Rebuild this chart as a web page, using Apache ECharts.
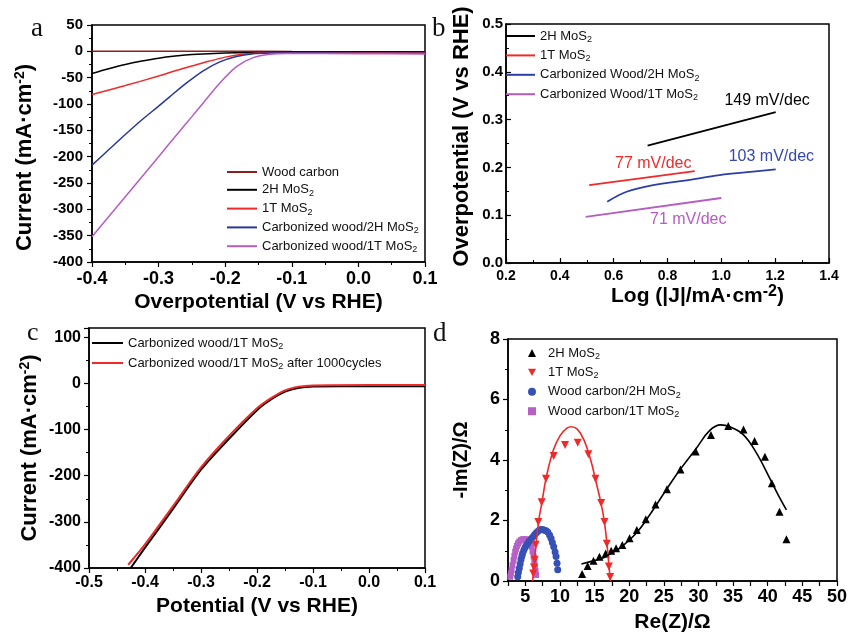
<!DOCTYPE html>
<html>
<head>
<meta charset="utf-8">
<script src="https://cdn.jsdelivr.net/npm/echarts@6.0.0/dist/echarts.min.js"></script>
<style>
  html, body { margin: 0; padding: 0; background: #fff; }
  #chart { width: 849px; height: 632px; }
</style>
</head>
<body>
<div id="chart"></div>
<script>
// ---- panel a: polarization curves [overpotential V, current mA/cm2]
const lsvWoodCarbon = [[-0.4, 0], [-0.3, 0], [-0.2, 0], [-0.15, 0], [-0.1, -0.5], [0, -0.8], [0.1, -0.8]];
const lsv2H = [[-0.4, -42], [-0.375, -33], [-0.35, -25], [-0.325, -18.5], [-0.3, -13], [-0.275, -9], [-0.25, -6], [-0.2, -3], [-0.15, -2], [-0.1, -1.5], [0, -1.5], [0.1, -1.5]];
const lsv1T = [[-0.4, -82], [-0.35, -65], [-0.3, -47], [-0.275, -37], [-0.25, -28], [-0.225, -19], [-0.2, -11], [-0.175, -5.5], [-0.15, -3], [-0.1, -2.5], [0, -2.5], [0.1, -2.5]];
const lsvCw2H = [[-0.4, -216], [-0.375, -187], [-0.35, -158], [-0.325, -130], [-0.3, -104], [-0.283, -86], [-0.258, -60], [-0.233, -37], [-0.208, -20], [-0.183, -10], [-0.158, -4.8], [-0.133, -3.3], [-0.1, -3], [0, -3.5], [0.1, -3.5]];
const lsvCw1T = [[-0.4, -352], [-0.35, -276], [-0.3, -200], [-0.27, -154], [-0.25, -124], [-0.233, -98], [-0.208, -60], [-0.183, -29], [-0.158, -12], [-0.133, -5.5], [-0.108, -4], [0, -4.5], [0.1, -5]];

// ---- panel b: Tafel plots [log|J|, overpotential V]
const tafel2H = [[0.726, 0.2455], [1.202, 0.3154]];
const tafel1T = [[0.509, 0.163], [0.901, 0.1923]];
const tafelCw2H = [[0.576, 0.128], [0.648, 0.149], [0.747, 0.163], [0.871, 0.173], [0.994, 0.184], [1.118, 0.191], [1.202, 0.196]];
const tafelCw1T = [[0.496, 0.0965], [1.0, 0.136]];
const tafelSlopes = ['149 mV/dec', '77 mV/dec', '103 mV/dec', '71 mV/dec'];
const tafelSlopeAt = [[1.17, 0.34], [0.747, 0.208], [1.186, 0.222], [0.877, 0.091]];

// ---- panel c: stability [potential V, current mA/cm2]
const stabFresh = [[-0.4255, -400], [-0.4, -356], [-0.35, -272], [-0.3, -187], [-0.25, -120], [-0.2, -58], [-0.175, -35], [-0.15, -18], [-0.125, -9.4], [-0.1, -6.5], [0, -6], [0.1, -6]];
const stabAged = [[-0.43, -393], [-0.4, -349], [-0.35, -266], [-0.3, -182], [-0.25, -114], [-0.2, -54], [-0.175, -32], [-0.15, -15], [-0.125, -7], [-0.1, -4.5], [0, -3.5], [0.1, -3.5]];

// ---- panel d: Nyquist plots [Re(Z), -Im(Z)]
const eis2H = [[13.2, 0.23], [14.0, 0.50], [14.84, 0.67], [15.7, 0.80], [16.6, 0.91], [17.4, 1.0], [18.1, 1.08], [19.0, 1.19], [20.05, 1.41], [21.1, 1.69], [22.4, 2.04], [23.8, 2.53], [25.45, 3.03], [27.4, 3.69], [29.6, 4.28], [31.8, 4.83], [34.3, 5.12], [36.5, 5.01], [38.1, 4.63], [39.6, 4.11], [40.6, 3.23], [41.7, 2.29], [42.7, 1.38]];
const eis2HFit = [[13.1, 0.56], [15, 0.68], [16.2, 0.76], [17, 0.86], [18.6, 1.08], [21, 1.58], [23, 2.2], [25.3, 3.0], [27.3, 3.67], [29.7, 4.39], [31.6, 4.97], [33.2, 5.16], [34.5, 5.1], [36.5, 4.83], [38.4, 4.22], [40.3, 3.39], [41.5, 2.85], [42.7, 2.35]];
const eis1T = [[6.15, 0.25], [6.25, 0.45], [6.35, 0.7], [6.5, 1.2], [6.88, 1.95], [7.36, 2.6], [7.99, 3.38], [9.1, 4.13], [10.74, 4.5], [12.57, 4.57], [14.1, 4.19], [15.13, 3.38], [15.95, 2.58], [16.43, 1.95], [16.77, 1.23], [17.06, 0.48], [17.25, 0.13]];
const eis1TFit = [[6.05, 0], [6.35, 0.7], [6.9, 1.95], [7.4, 2.6], [8, 3.4], [9, 4.3], [10, 4.8], [11, 5.05], [11.6, 5.1], [12.5, 5.02], [13.5, 4.65], [14.5, 3.95], [15.1, 3.38], [15.95, 2.55], [16.45, 1.9], [16.8, 1.2], [17.1, 0.45], [17.3, 0]];
const eisCw2H = [[3.9, 0.14], [4.0, 0.28], [4.13, 0.42], [4.25, 0.56], [4.37, 0.70], [4.5, 0.82], [4.61, 0.92], [4.78, 1.02], [4.95, 1.11], [5.15, 1.18], [5.33, 1.24], [5.55, 1.31], [5.81, 1.38], [6.05, 1.45], [6.3, 1.52], [6.55, 1.59], [6.78, 1.64], [7.0, 1.68], [7.26, 1.7], [7.5, 1.7], [7.75, 1.68], [8.0, 1.66], [8.23, 1.62], [8.5, 1.52], [8.71, 1.41], [8.9, 1.27], [9.1, 1.13], [9.3, 0.96], [9.44, 0.81], [9.58, 0.59], [9.68, 0.37]];
const eisCw1T = [[2.83, 0.14], [2.92, 0.25], [3.02, 0.36], [3.15, 0.52], [3.3, 0.69], [3.42, 0.83], [3.54, 0.97], [3.66, 1.07], [3.79, 1.16], [3.95, 1.24], [4.13, 1.30], [4.35, 1.35], [4.61, 1.38], [4.85, 1.38], [5.09, 1.38], [5.33, 1.35], [5.57, 1.30], [5.75, 1.22], [5.91, 1.14], [6.05, 0.98], [6.2, 0.81], [6.3, 0.64], [6.39, 0.48], [6.47, 0.33], [6.54, 0.2]];

const legendText = {
   a_wood: "Wood carbon",
   a_2h: "2H MoS{s|2}",
   a_1t: "1T MoS{s|2}",
   a_cw2h: "Carbonized wood/2H MoS{s|2}",
   a_cw1t: "Carbonized wood/1T MoS{s|2}",
   b_2h: "2H MoS{s|2}",
   b_1t: "1T MoS{s|2}",
   b_cw2h: "Carbonized Wood/2H MoS{s|2}",
   b_cw1t: "Carbonized Wood/1T MoS{s|2}",
   c_fresh: "Carbonized wood/1T MoS{s|2}",
   c_aged: "Carbonized wood/1T MoS{s|2} after 1000cycles",
   d_2h: "2H MoS{s|2}",
   d_1t: "1T MoS{s|2}",
   d_cw2h: "Wood carbon/2H MoS{s|2}",
   d_cw1t: "Wood carbon/1T MoS{s|2}",
};

const FONT = "Liberation Sans";
const INV_TRI = "path://M0,0L10,0L5,9Z";

// 轴样式
function axis(grid, o) {
   return {
      type: "value",
      gridIndex: grid,
      min: o.min,
      max: o.max,
      interval: o.interval,
      name: o.name,
      nameLocation: "middle",
      nameGap: o.nameGap,
      nameTextStyle: {
         fontFamily: FONT,
         fontWeight: "bold",
         fontSize: o.nameSize || 21,
         color: "#000",
         lineHeight: 24,
         padding: o.namePad || 0,
         rich: {
            sup: { fontFamily: FONT, fontWeight: "bold", fontSize: o.supSize || 14, lineHeight: 24, padding: [0, 0, 9, 0] },
         },
      },
      axisLine: { show: true, onZero: false, lineStyle: { color: "#000", width: 1.5 } },
      axisTick: { show: true, inside: !!o.inside, length: 5, lineStyle: { color: "#000", width: 1.2 } },
      minorTick: { show: o.minor !== false, splitNumber: 2, length: 3, lineStyle: { color: "#000", width: 1 } },
      splitLine: { show: false },
      axisLabel: {
         color: "#000",
         fontFamily: FONT,
         fontWeight: "bold",
         fontSize: o.labelSize,
         margin: o.margin,
         showMaxLabel: o.showMax,
         formatter: o.fmt,
      },
   };
}

const fix1 = (v) => v.toFixed(1);

function legend(left, top, gap, names, extra) {
   return Object.assign(
      {
         left: left,
         top: top,
         orient: "vertical",
         padding: 0,
         itemGap: gap,
         selectedMode: false,
         icon: "rect",
         itemWidth: 30,
         itemHeight: 2,
         data: names,
         formatter: (n) => legendText[n],
         textStyle: {
            fontFamily: FONT,
            fontSize: 13,
            color: "#111",
            lineHeight: 14,
            rich: { s: { fontFamily: FONT, fontSize: 9, lineHeight: 14, padding: [7, 0, 0, 0] } },
         },
      },
      extra || {}
   );
}

function line(name, xi, data, color, width, smooth) {
   return {
      type: "line",
      name: name,
      xAxisIndex: xi,
      yAxisIndex: xi,
      data: data,
      symbol: "none",
      smooth: smooth,
      silent: true,
      lineStyle: { color: color, width: width },
      itemStyle: { color: color },
   };
}

function scatter(name, data, symbol, size, color) {
   return {
      type: "scatter",
      name: name,
      xAxisIndex: 3,
      yAxisIndex: 3,
      data: data,
      symbol: symbol,
      symbolSize: size,
      silent: true,
      itemStyle: { color: color, opacity: 1 },
   };
}

const C_DRED = "#8e1f1f", C_RED = "#ee2a2a", C_BLUE = "#28379a", C_PURP = "#b75cc6";

const tafelColors = ["#000", C_RED, "#3448b0", "#b45cc2"];
const tafelSeries = [
   line("b_2h", 1, tafel2H, "#000", 1.8, false),
   line("b_1t", 1, tafel1T, C_RED, 1.8, false),
   line("b_cw2h", 1, tafelCw2H, "#2c3fa8", 1.8, 0.4),
   line("b_cw1t", 1, tafelCw1T, "#b45cc2", 1.8, false),
];
tafelSeries.forEach((s, i) => {
   s.markPoint = {
      symbol: "circle",
      symbolSize: 0,
      silent: true,
      label: {
         show: true,
         position: "inside",
         formatter: tafelSlopes[i],
         color: tafelColors[i],
         fontFamily: FONT,
         fontSize: 16,
      },
      data: [{ coord: tafelSlopeAt[i] }],
   };
});

const option = {
   animation: false,
   backgroundColor: "#fff",
   grid: [
      { left: 92, top: 25, width: 333, height: 237 },
      { left: 506, top: 24, width: 323, height: 239 },
      { left: 89, top: 328, width: 336, height: 240 },
      { left: 508, top: 339, width: 329, height: 242 },
   ].map((g) => Object.assign(g, { show: true, borderColor: "#000", borderWidth: 1.5, outerBoundsMode: "none" })),
   xAxis: [
      axis(0, { min: -0.4, max: 0.1, interval: 0.1, name: "Overpotential (V vs RHE)", nameGap: 28, labelSize: 18, margin: 8, fmt: fix1 }),
      axis(1, { min: 0.2, max: 1.4, interval: 0.2, name: "Log (|J|/mA·cm{sup|-2})", nameGap: 20, namePad: [0, 0, 0, 60], supSize: 16, labelSize: 14, margin: 6, fmt: fix1, inside: true }),
      axis(2, { min: -0.5, max: 0.1, interval: 0.1, name: "Potential (V vs RHE)", nameGap: 26, labelSize: 16, margin: 7, fmt: fix1 }),
      axis(3, {
         min: 2.5, max: 50, interval: 2.5, name: "Re(Z)/Ω", nameGap: 29, labelSize: 18, margin: 7, minor: false,
         fmt: (v) => (Math.abs(v % 5) < 1e-6 ? String(v) : ""),
      }),
   ],
   yAxis: [
      axis(0, { min: -400, max: 50, interval: 50, name: "Current (mA·cm{sup|-2})", nameSize: 22, nameGap: 55, namePad: [0, 28, 0, 0], labelSize: 15, margin: 9 }),
      axis(1, { min: 0, max: 0.5, interval: 0.1, name: "Overpotential (V vs RHE)", nameSize: 22, nameGap: 32, namePad: [0, 0, 0, 14], labelSize: 15, margin: 3, fmt: fix1, inside: true }),
      axis(2, { min: -400, max: 120, interval: 100, name: "Current (mA·cm{sup|-2})", nameSize: 22, nameGap: 47, labelSize: 16, margin: 8, showMax: false }),
      axis(3, { min: 0, max: 8, interval: 2, name: "-Im(Z)/Ω", nameSize: 20, nameGap: 35, labelSize: 18, margin: 8 }),
   ],
   legend: [
      legend(227, 165, 2.8, ["a_wood", "a_2h", "a_1t", "a_cw2h", "a_cw1t"]),
      legend(506, 28, 3.4, ["b_2h", "b_1t", "b_cw2h", "b_cw1t"], { itemWidth: 29 }),
      legend(92, 335, 4, ["c_fresh", "c_aged"], { itemWidth: 31 }),
      legend(528, 345, 3.4, [
         { name: "d_2h", icon: "triangle" },
         { name: "d_1t", icon: INV_TRI },
         { name: "d_cw2h", icon: "circle" },
         { name: "d_cw1t", icon: "rect" },
      ], {
         itemWidth: 8,
         itemHeight: 8,
         textStyle: {
            fontFamily: FONT, fontSize: 13, color: "#111", lineHeight: 14, padding: [0, 0, 0, 7],
            rich: { s: { fontFamily: FONT, fontSize: 9, lineHeight: 14, padding: [7, 0, 0, 0] } },
         },
      }),
   ],
   graphic: [
      { type: "text", left: 31, top: 15, style: { text: "a", font: "27px Liberation Serif", fill: "#111" } },
      { type: "text", left: 432, top: 15, style: { text: "b", font: "27px Liberation Serif", fill: "#111" } },
      { type: "text", left: 27, top: 320, style: { text: "c", font: "26px Liberation Serif", fill: "#111" } },
      { type: "text", left: 433, top: 320, style: { text: "d", font: "27px Liberation Serif", fill: "#111" } },
   ],
   series: [
      line("a_wood", 0, lsvWoodCarbon, C_DRED, 1.5, false),
      line("a_2h", 0, lsv2H, "#000", 1.5, 0.3),
      line("a_1t", 0, lsv1T, C_RED, 1.5, 0.3),
      line("a_cw2h", 0, lsvCw2H, C_BLUE, 1.5, 0.3),
      line("a_cw1t", 0, lsvCw1T, C_PURP, 1.5, 0.3),
      ...tafelSeries,
      line("c_fresh", 2, stabFresh, "#000", 2, 0.3),
      line("c_aged", 2, stabAged, C_RED, 2, 0.3),
      scatter("d_cw1t", eisCw1T, "rect", 6, "#b660c8"),
      scatter("d_cw2h", eisCw2H, "circle", 7, "#3651b6"),
      line("d_1t_fit", 3, eis1TFit, C_RED, 1.6, 0.4),
      scatter("d_1t", eis1T, INV_TRI, 8, C_RED),
      line("d_2h_fit", 3, eis2HFit, "#000", 1.6, 0.4),
      scatter("d_2h", eis2H, "triangle", 8, "#000"),
   ],
};

const myChart = echarts.init(document.getElementById("chart"));
myChart.setOption(option);
</script>
</body>
</html>
